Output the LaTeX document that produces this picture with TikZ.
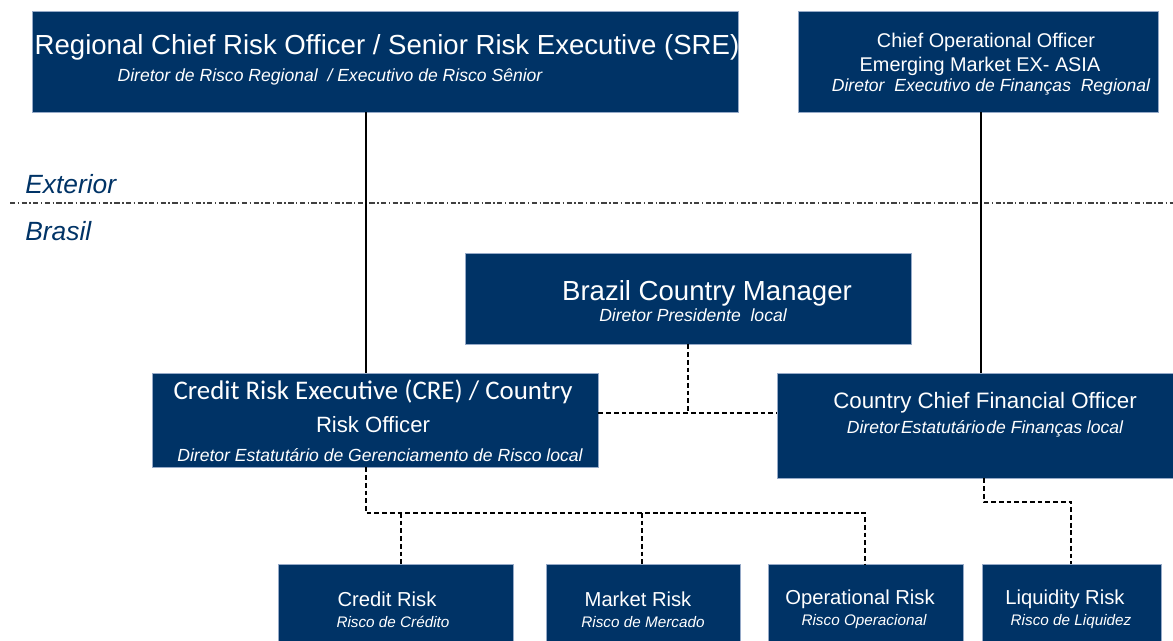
\documentclass[tikz,border=0pt]{standalone}
\usepackage{fontspec}
\setmainfont{Liberation Sans}
\newfontfamily\calfont{Carlito}
\usetikzlibrary{positioning}
\definecolor{navy}{RGB}{0,51,102}
\definecolor{rim}{RGB}{150,170,200}

\begin{document}
\begin{tikzpicture}[x=0.02cm,y=-0.02cm]
	\tikzstyle{box}=[rectangle,draw=rim,line width=0.4pt,fill=navy,inner sep=0pt]
	\tikzstyle{txt}=[text=white,inner sep=0pt]
	\tikzstyle{sub}=[text=white,inner sep=0pt,font=\itshape\fontsize{10}{12}\selectfont]
	\tikzstyle{place}=[text=navy,inner sep=0pt,anchor=west,font=\itshape\fontsize{15}{18}\selectfont]
	\tikzstyle{dsh}=[line width=0.7pt,dash pattern=on 2.7pt off 1.7pt]
	\useasboundingbox (0,0) rectangle (1173,641);
	% boxes
	\node[box,minimum width=14.12cm,minimum height=2.02cm] (1) at (385,61.5) {};
	\node[box,minimum width=7.2cm,minimum height=2.02cm] (2) at (978,61.5) {};
	\node[box,minimum width=8.92cm,minimum height=1.82cm] (3) at (688,298.5) {};
	\node[box,minimum width=8.92cm,minimum height=1.88cm] (4) at (375,420) {};
	\node[box,minimum width=8.06cm,minimum height=2.1cm] (5) at (978.5,425.5) {};
	\node[box,minimum width=4.7cm,minimum height=1.72cm] (6) at (395.5,607) {};
	\node[box,minimum width=3.88cm,minimum height=1.72cm] (7) at (643,607) {};
	\node[box,minimum width=3.9cm,minimum height=1.72cm] (8) at (865.5,607) {};
	\node[box,minimum width=3.58cm,minimum height=1.72cm] (9) at (1071.5,607) {};
	% texts
	\node[txt,font=\fontsize{15.7}{18}\selectfont] (1t) at (387,47) {Regional Chief Risk Officer / Senior Risk Executive (SRE)};
	\node[sub] (1s) at (330,77) {Diretor de Risco Regional \ / Executivo de Risco Sênior};
	\node[txt,font=\fontsize{11.3}{13}\selectfont] (2t) at (986,42) {Chief Operational Officer};
	\node[txt,font=\fontsize{11.3}{13}\selectfont] (2u) at (980,66) {Emerging Market EX- ASIA};
	\node[sub] (2s) at (991,87) {Diretor \ Executivo de Finanças \ Regional};
	\node[txt,font=\fontsize{15.7}{18}\selectfont] (3t) at (707,293) {Brazil Country Manager};
	\node[sub] (3s) at (693,315) {Diretor Presidente \ local};
	\node[txt,font=\calfont\fontsize{15.3}{18}\selectfont] (4t) at (373,392) {Credit Risk Executive (CRE) / Country};
	\node[txt,font=\fontsize{12.6}{15}\selectfont] (4u) at (373,425) {Risk Officer};
	\node[sub] (4s) at (380,455) {Diretor Estatutário de Gerenciamento de Risco local};
	\node[txt,font=\fontsize{12.7}{15}\selectfont] (5t) at (985,403) {Country Chief Financial Officer};
	\node[sub] (5s) at (985,429) {Diretor\hspace{0.08em}Estatutário\hspace{0.08em}de Finanças local};
	\node[txt,font=\fontsize{11.5}{14}\selectfont] (6t) at (387,599) {Credit Risk};
	\node[sub,font=\itshape\fontsize{8.7}{10}\selectfont] (6s) at (393,622) {Risco de Crédito};
	\node[txt,font=\fontsize{11.5}{14}\selectfont] (7t) at (638,599) {Market Risk};
	\node[sub,font=\itshape\fontsize{8.7}{10}\selectfont] (7s) at (643,622) {Risco de Mercado};
	\node[txt,font=\fontsize{11.5}{14}\selectfont] (8t) at (860,599) {Operational Risk};
	\node[sub,font=\itshape\fontsize{8.7}{10}\selectfont] (8s) at (864,622) {Risco Operacional};
	\node[txt,font=\fontsize{11.5}{14}\selectfont] (9t) at (1065,599) {Liquidity Risk};
	\node[sub,font=\itshape\fontsize{8.7}{10}\selectfont] (9s) at (1071,622) {Risco de Liquidez};
	% exterior / brasil
	\node[place] (ext) at (25,184) {Exterior};
	\node[place] (bra) at (25,231) {Brasil};
	\coordinate (s1) at (10,203);
	\coordinate (s2) at (1173,203);
	\draw[black!75,line width=0.6pt,dash pattern=on 3pt off 1.4pt on 0.8pt off 1.4pt] (s1) -- (s2);
	% lines
	\coordinate (a) at (366,513);
	\coordinate (b) at (981,0);
	\coordinate (c) at (688,413);
	\coordinate (d) at (865,513);
	\coordinate (e) at (401,513);
	\coordinate (f) at (642,513);
	\coordinate (g) at (984,502);
	\coordinate (h) at (1071,502);
	\draw[line width=0.6pt] (1.south -| a) -- (4.north -| a);
	\draw[line width=0.6pt] (2.south -| b) -- (5.north -| b);
	\draw[dsh] (3.south -| c) -- (c);
	\draw[dsh] (4.east |- c) -- (5.west |- c);
	\draw[dsh] (4.south -| a) -- (a) -- (d) -- (8.north -| d);
	\draw[dsh] (e) -- (6.north -| e);
	\draw[dsh] (f) -- (7.north -| f);
	\draw[dsh] (5.south -| g) -- (g) -- (h) -- (9.north -| h);
\end{tikzpicture}
\end{document}
